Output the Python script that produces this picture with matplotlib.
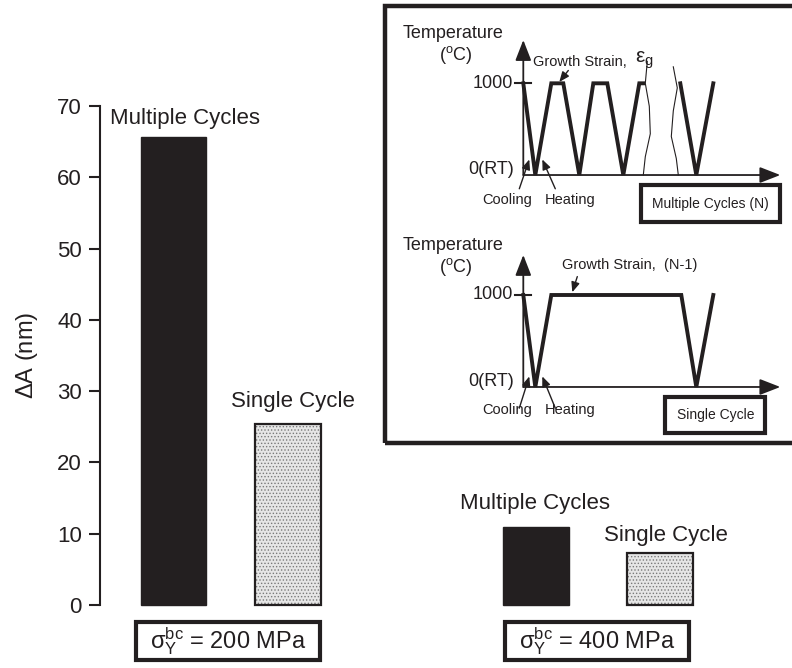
import matplotlib
matplotlib.use("Agg")
import matplotlib.pyplot as plt
from matplotlib.patches import Rectangle

plt.rcParams['font.family'] = ['Liberation Sans', 'DejaVu Sans']
plt.rcParams['mathtext.fontset'] = 'custom'
plt.rcParams['mathtext.rm'] = 'Liberation Sans'
plt.rcParams['mathtext.it'] = 'Liberation Sans:italic'
plt.rcParams['mathtext.default'] = 'regular'
plt.rcParams['hatch.linewidth'] = 0.6

# bar data: delta A (nm)
groups = ["200 MPa", "400 MPa"]
multiple_vals = [65.7, 10.9]
single_vals = [25.4, 7.3]
bar_labels = ["Multiple Cycles", "Single Cycle"]
y_ticks = [0, 10, 20, 30, 40, 50, 60, 70]

# schematic thermal histories (time, temperature in C)
multi_t = [0, 1.2, 2.8, 4.0, 5.6, 7.0, 8.4, 10.0, 11.6, 12.0]
multi_T = [1000, 0, 1000, 1000, 0, 1000, 1000, 0, 1000, 1000]
multi_t2 = [15.7, 17.3, 19.0]
multi_T2 = [1000, 0, 1000]
single_t = [0, 1.2, 2.8, 15.8, 17.3, 19.0]
single_T = [1000, 0, 1000, 1000, 0, 1000]

W, H = 792, 668
fig = plt.figure(figsize=(W / 100, H / 100), dpi=100)
k = '#231f20'

# ---------------- main bar axes ----------------
ax = fig.add_axes([100 / W, (H - 605) / H, 692 / W, 499 / H])
ax.set_xlim(0, 6.92)
ax.set_ylim(0, 70)

bar_x_multi = [0.735, 4.36]
bar_x_single = [1.88, 5.60]
bw = 0.655

ax.bar(bar_x_multi, multiple_vals, width=bw, color=k, edgecolor=k,
       linewidth=1, clip_on=False)
ax.bar(bar_x_single, single_vals, width=bw, color='#e6e6e6', edgecolor='#7a7a7a',
       linewidth=0, hatch='.....', clip_on=False)
ax.bar(bar_x_single, single_vals, width=bw, fill=False, edgecolor=k,
       linewidth=1.6, clip_on=False)

for s in ['top', 'right', 'bottom']:
    ax.spines[s].set_visible(False)
ax.spines['left'].set_linewidth(1.5)
ax.spines['left'].set_color(k)
ax.set_xticks([])
ax.set_yticks(y_ticks)
ax.tick_params(axis='y', direction='out', length=8, width=1.5, labelsize=16,
               colors=k, pad=5)
ax.set_ylabel(r'$\Delta$A (nm)', fontsize=17, color=k)
ax.yaxis.set_label_coords(-0.0867, 0.50)

ax.text(0.85, 68.3, bar_labels[0], fontsize=16, ha='center', va='center', color=k)
ax.text(1.93, 28.6, bar_labels[1], fontsize=16, ha='center', va='center', color=k)
ax.text(4.35, 14.3, bar_labels[0], fontsize=16, ha='center', va='center', color=k)
ax.text(5.66, 9.8, bar_labels[1], fontsize=16, ha='center', va='center', color=k)

for x0, g in zip([0.36, 4.05], groups):
    ax.add_patch(Rectangle((x0, -7.7), 1.84, -2.4 + 7.7, fc='white', ec=k, lw=3,
                           clip_on=False))
    ax.text(x0 + 0.92, -5.1, r'$\sigma_Y^{bc}$ = ' + g, fontsize=17, ha='center',
            va='center', color=k, clip_on=False)

# ---------------- inset frame ----------------
fig.patches.append(Rectangle((385 / W, (H - 443) / H), 420 / W, 437 / H,
                             transform=fig.transFigure, fill=False,
                             ec=k, lw=3.2, zorder=5))


def schematic(rect, ylim, t1, T1, extra=None, growth_xy=(0, 0),
              growth_arrow=((0, 0), (0, 0)), box_text="", box_xy=(0, 0),
              label_y=(0, 0, 0), cool_y=0, arrows_y=(0, 0)):
    a = fig.add_axes(rect)
    a.set_xlim(-14, 27)
    a.set_ylim(*ylim)
    a.axis('off')
    head = dict(arrowstyle='-|>,head_length=0.9,head_width=0.35', color=k, lw=1.3,
                shrinkA=0, shrinkB=0, mutation_scale=14)
    a.annotate('', xy=(0, label_y[2]), xytext=(0, 0), arrowprops=head)
    a.annotate('', xy=(25.7, 0), xytext=(0, 0), arrowprops=head)
    a.plot([-0.8, 0.8], [1000, 1000], color=k, lw=1.5)
    a.plot(t1, T1, color=k, lw=2.8, solid_joinstyle='miter')
    if extra is not None:
        a.plot(extra[0], extra[1], color=k, lw=2.8, solid_joinstyle='miter')
    a.text(-12.1, label_y[0], 'Temperature', fontsize=13, ha='left', va='center', color=k)
    a.text(-8.4, label_y[1], r'($^{o}$C)', fontsize=13, ha='left', va='center', color=k)
    a.text(-1.0, 1000, '1000', fontsize=13, ha='right', va='center', color=k)
    a.text(-0.9, 60, '0(RT)', fontsize=13, ha='right', va='center', color=k)
    arr = dict(arrowstyle='-|>,head_length=0.6,head_width=0.25', color=k, lw=1,
               shrinkA=0, shrinkB=0, mutation_scale=10)
    a.annotate('', xy=growth_arrow[1], xytext=growth_arrow[0], arrowprops=arr)
    a.text(-1.6, cool_y, 'Cooling', fontsize=10.5, ha='center', va='center', color=k)
    a.text(4.7, cool_y, 'Heating', fontsize=10.5, ha='center', va='center', color=k)
    a.annotate('', xy=(0.6, arrows_y[1]), xytext=(-0.4, arrows_y[0]), arrowprops=arr)
    a.annotate('', xy=(1.9, arrows_y[1]), xytext=(3.2, arrows_y[0]), arrowprops=arr)
    a.text(box_xy[0], box_xy[1], box_text, fontsize=10, ha='center', va='center',
           color=k, bbox=dict(boxstyle='square,pad=0.8', fc='white', ec=k, lw=3))
    return a


top = schematic([383.3 / W, (H - 225) / H, 410 / W, 220 / H], (-545, 1854),
                multi_t, multi_T, extra=(multi_t2, multi_T2),
                growth_arrow=((4.5, 1140), (3.6, 1015)),
                box_text='Multiple Cycles (N)', box_xy=(18.7, -311),
                label_y=(1548, 1309, 1472), cool_y=-270, arrows_y=(-150, 170))
top.text(1.0, 1235, 'Growth Strain,', fontsize=10.5, ha='left', va='center', color=k)
top.text(11.2, 1250, r'$\varepsilon_g$', fontsize=15, ha='left', va='center', color=k)
# break marks on the multiple-cycle history
top.plot([12.4, 12.2, 12.6, 12.7, 12.2, 12.0], [1240, 1000, 750, 450, 200, 0],
         color=k, lw=0.8)
top.plot([15.0, 15.4, 15.0, 14.8, 15.3, 15.5], [1180, 950, 700, 420, 180, 0],
         color=k, lw=0.8)

bot = schematic([383.3 / W, (H - 443) / H, 410 / W, 218 / H], (-609, 1761),
                single_t, single_T,
                growth_arrow=((5.4, 1200), (4.9, 1030)),
                box_text='Single Cycle', box_xy=(19.2, -304),
                label_y=(1543, 1304, 1435), cool_y=-250, arrows_y=(-230, 115))
bot.text(3.9, 1326, 'Growth Strain,  (N-1)', fontsize=10.5, ha='left', va='center',
         color=k)

fig.savefig('out.png', dpi=100)
